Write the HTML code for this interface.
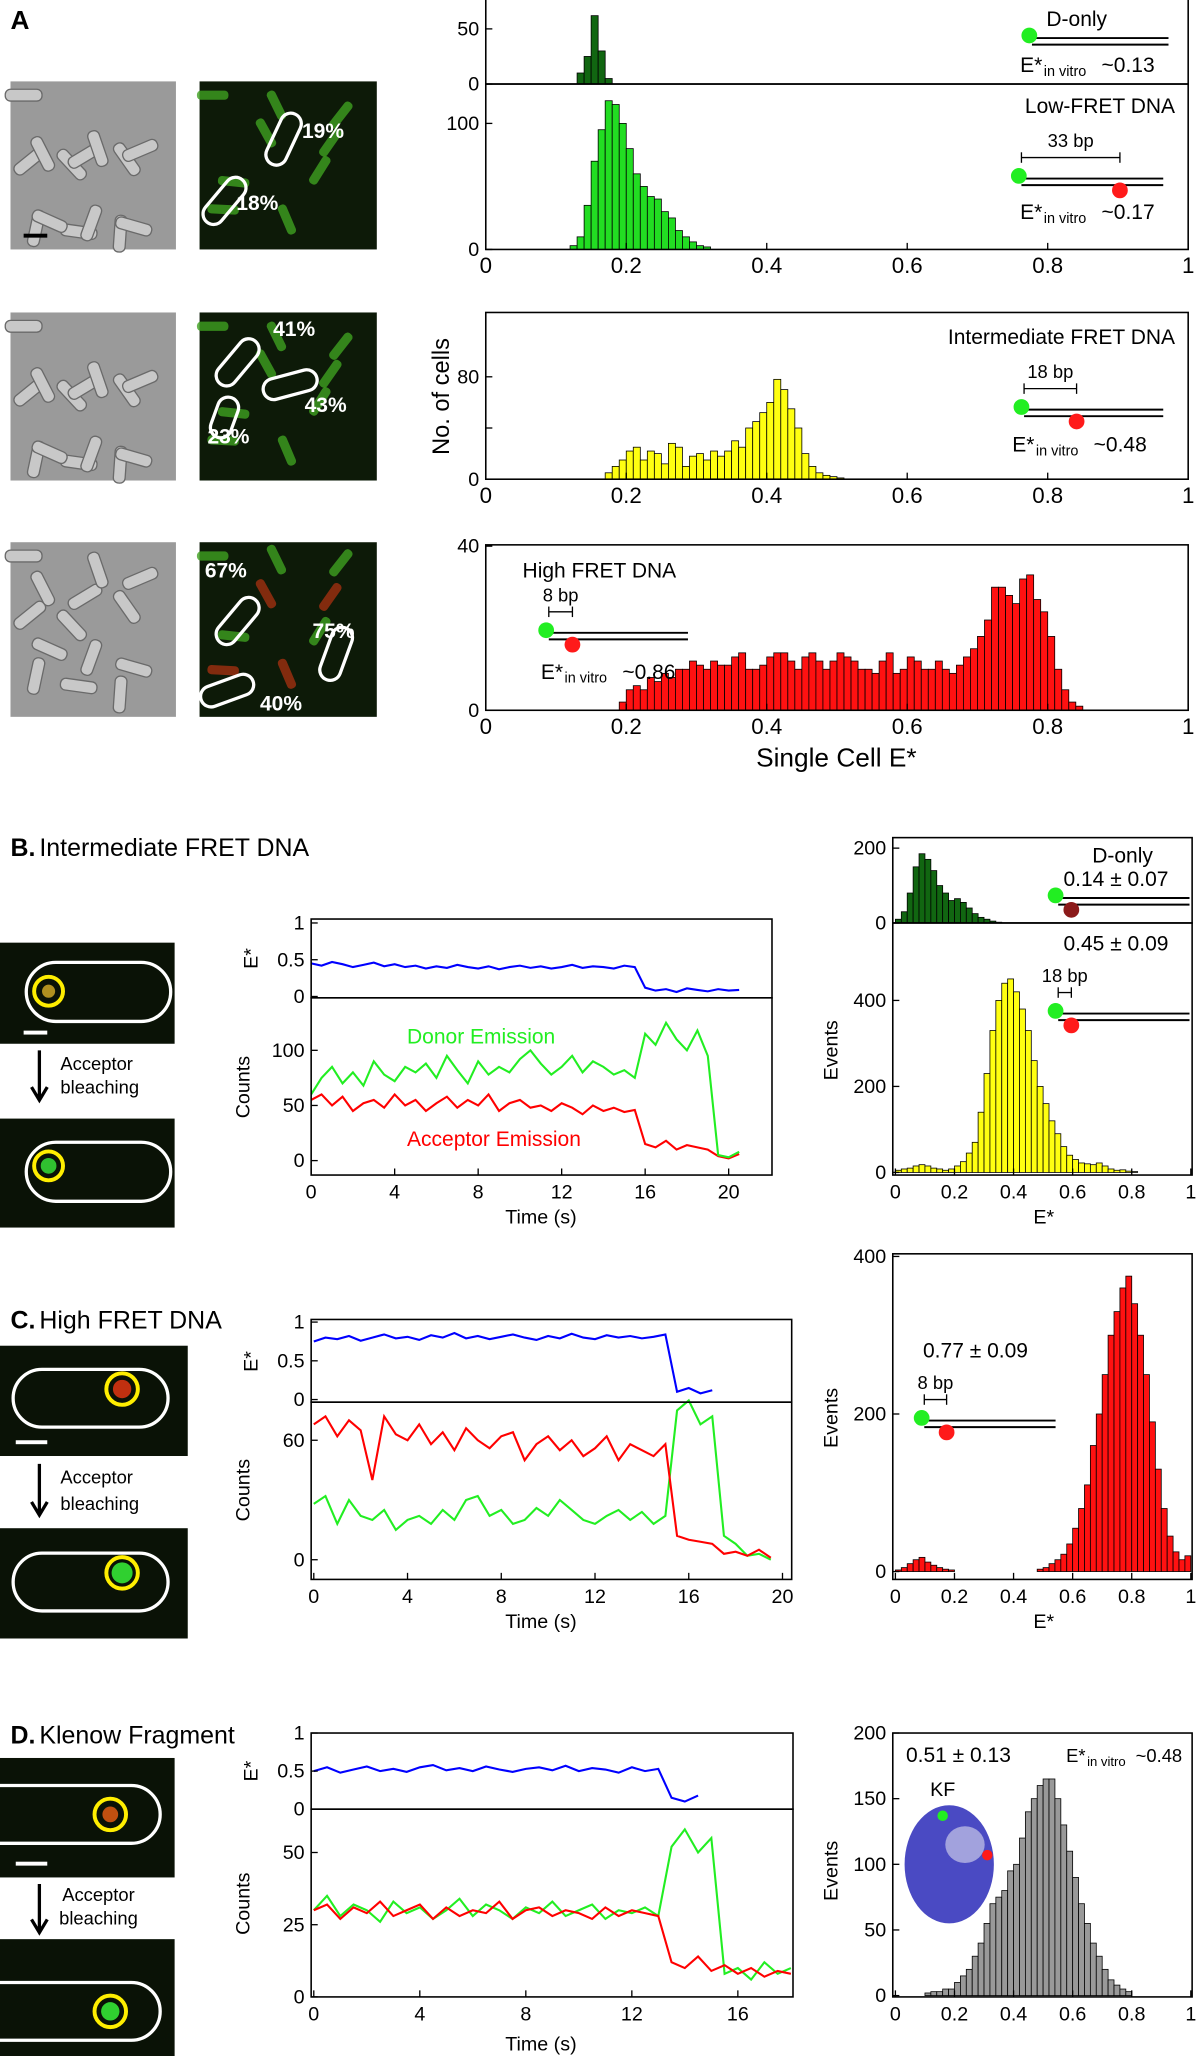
<!DOCTYPE html>
<html><head><meta charset="utf-8"><style>
html,body{margin:0;padding:0;background:#fff;}
svg{display:block;font-family:"Liberation Sans","DejaVu Sans",sans-serif;}
</style></head><body>
<svg id="fig" xmlns="http://www.w3.org/2000/svg" width="1200" height="2056" viewBox="0 0 914 1566" preserveAspectRatio="none"></svg>
<script>
// ---------- DATA ----------
const aDonlyStart = 0.13, aDonlyW = 0.01;
const aDonly = [10,25,62,30,5];
const aLowStart = 0.12, aLowW = 0.01;
const aLow = [3,10,35,70,95,118,115,100,80,60,50,42,40,30,25,15,10,6,3,2];
const aMidStart = 0.17, aMidW = 0.01;
const aMid = [5,10,15,22,25,15,22,20,12,28,25,10,18,20,15,22,18,22,30,25,40,45,52,60,78,70,55,40,20,10,5,3,2,1];
const aHighStart = 0.19, aHighW = 0.01;
const aHigh = [2,5,6,5,8,7,9,8,10,10,12,11,10,12,11,11,13,14,10,10,11,13,14,14,12,10,13,14,12,10,12,14,13,12,10,10,9,12,14,9,10,13,12,10,10,12,10,9,11,13,15,18,22,30,30,28,26,32,33,27,24,18,10,5,2,1];
const bDonly = [10,30,80,150,185,170,140,100,80,60,65,55,40,25,15,10,5,2];
const bMain = [5,8,10,15,18,15,10,8,5,8,15,25,45,70,140,230,330,400,440,450,420,380,330,260,200,160,120,90,60,40,30,22,20,18,22,15,8,5,6,3,2];
const cMain = [2,5,10,15,18,12,8,5,3,2,0,0,0,0,0,0,0,0,0,0,0,0,0,0,3,5,10,15,22,35,55,80,110,160,200,250,300,330,360,375,340,300,250,190,130,80,45,25,15,20];
const dMain = [0,0,0,0,0,2,3,3,5,5,10,15,20,30,40,55,70,75,80,95,100,120,140,150,160,165,165,150,130,110,90,70,55,40,30,20,12,8,5,3];
const bTraceDt = 0.5;
const bE = [.45,.42,.47,.44,.40,.43,.46,.41,.44,.40,.42,.38,.41,.39,.43,.40,.38,.41,.37,.40,.42,.39,.41,.38,.40,.43,.39,.41,.40,.38,.42,.40,.12,.08,.10,.06,.11,.09,.07,.10,.08,.09];
const bGreen = [60,75,85,70,80,68,90,78,72,85,80,88,75,95,82,70,90,78,85,80,92,100,88,78,85,95,80,90,85,78,82,75,115,105,125,110,100,118,95,5,3,8];
const bRed = [55,60,50,58,45,52,55,48,60,50,55,45,52,58,48,55,50,60,45,52,55,48,50,45,52,48,42,50,45,48,44,46,15,12,18,10,14,12,10,4,2,6];
const cTraceDt = 0.5;
const cE = [.75,.80,.78,.82,.76,.80,.84,.79,.81,.77,.83,.80,.86,.79,.82,.78,.81,.84,.80,.77,.82,.79,.85,.80,.78,.83,.80,.82,.79,.81,.84,.10,.15,.08,.12];
const cRed = [68,72,62,70,65,40,72,63,60,68,58,64,55,66,60,56,62,64,50,58,62,55,60,52,56,62,50,58,55,52,58,12,10,9,8,3,4,2,5,1];
const cGreen = [28,32,18,30,22,20,25,15,20,22,18,25,20,30,32,22,25,18,20,26,22,30,25,20,18,22,25,20,24,18,22,75,80,68,72,12,8,2,3,0];
const dTraceDt = 0.5;
const dE = [.50,.55,.48,.52,.56,.50,.53,.49,.55,.58,.51,.54,.50,.56,.52,.49,.53,.55,.51,.57,.50,.54,.52,.48,.55,.50,.53,.15,.10,.18];
const dGreen = [30,35,28,32,30,26,33,29,31,27,30,34,28,32,30,27,31,29,33,28,30,32,27,30,29,31,28,52,58,50,55,8,10,6,12,8,10];
const dRed = [30,32,27,31,29,33,28,30,32,27,31,28,30,29,33,27,30,31,28,30,29,27,31,28,30,29,28,12,10,14,9,11,8,10,7,9,8];
const eTicks = ['0','0.2','0.4','0.6','0.8','1'];

// ---------- HELPERS ----------
const svg = document.getElementById('fig');
const NS = 'http://www.w3.org/2000/svg';
function mk(tag, attrs, name, parent){
  const e = document.createElementNS(NS, tag);
  for (const k in attrs) e.setAttribute(k, attrs[k]);
  
  
  (parent||svg).appendChild(e);
  return e;
}
function txt(x,y,s,name,opt){
  opt=opt||{};
  const t = mk('text',{x:x,y:y,'font-size':opt.size||15,'text-anchor':opt.anchor||'middle',fill:opt.fill||'#000','font-weight':opt.bold?'bold':'normal'},name);
  if(opt.rot) t.setAttribute('transform','rotate(-90 '+x+' '+y+')');
  t.textContent=s; return t;
}
function linear(d0,d1,r0,r1){return v=>r0+(v-d0)/(d1-d0)*(r1-r0);}
function box(x0,y0,x1,y1,name){mk('rect',{x:x0,y:y0,width:x1-x0,height:y1-y0,fill:'none',stroke:'#000','stroke-width':1.2},name);}
function hist(sx,sy,start,w,arr,color,name){
  arr.forEach((v,i)=>{
    if(v<=0) return;
    const xa=sx(start+i*w), xb=sx(start+(i+1)*w), y=sy(v), y0=sy(0);
    mk('rect',{x:xa,y:y,width:xb-xa,height:y0-y,fill:color,stroke:'#000','stroke-width':0.6},name+'-bar');
  });
}
function yTicks(x,sy,vals,labels,name){
  vals.forEach((v,i)=>{
    mk('line',{x1:x,x2:x+5,y1:sy(v),y2:sy(v),stroke:'#000'},name+'-tick');
    txt(x-5,sy(v)+5,labels[i],name+'-label',{anchor:'end'});
  });
}
function xTicks(y,sx,vals,labels,name,size){
  vals.forEach((v,i)=>{
    mk('line',{x1:sx(v),x2:sx(v),y1:y,y2:y-5,stroke:'#000'},name+'-tick');
    txt(sx(v),y+18,labels[i],name+'-label',{size:size||15});
  });
}
function trace(sx,sy,dt,arr,color,name){
  const pts=arr.map((v,i)=>sx(i*dt).toFixed(1)+','+sy(v).toFixed(1)).join(' ');
  mk('polyline',{points:pts,fill:'none',stroke:color,'stroke-width':1.6},name);
}
function dna(x,y,len,gap,redX,label,name,redColor){
  mk('line',{x1:x,x2:x+len,y1:y+2,y2:y+2,stroke:'#000','stroke-width':1.5},name+'-strand-top');
  mk('line',{x1:x,x2:x+len,y1:y+7,y2:y+7,stroke:'#000','stroke-width':1.5},name+'-strand-bottom');
  mk('circle',{cx:x-2,cy:y,r:6,fill:'#22ee22'},name+'-donor');
  mk('circle',{cx:redX,cy:y+11,r:6,fill:redColor||'#ff1a1a'},name+'-acceptor');
  if(label){
    mk('line',{x1:x,x2:redX,y1:y-14,y2:y-14,stroke:'#000'},name+'-scale');
    mk('line',{x1:x,x2:x,y1:y-18,y2:y-10,stroke:'#000'},name+'-scale-cap');
    mk('line',{x1:redX,x2:redX,y1:y-18,y2:y-10,stroke:'#000'},name+'-scale-cap');
    txt((x+redX)/2,y-22,label,name+'-bp-label',{size:14});
  }
}
function micro(x,y,w,h,kind,name){
  const g=mk('g',{},name);
  if(kind==='gray'){
    mk('rect',{x:x,y:y,width:w,height:h,fill:'#9a9a9a'},name+'-bg',g);
    for(let i=0;i<14;i++){
      const cx=x+10+((i*37)%(w-20)), cy=y+10+((i*53)%(h-20)), a=(i*47)%180;
      mk('rect',{x:cx-14,y:cy-4,width:28,height:9,rx:4,fill:'#c8c8c8',stroke:'#6a6a6a','stroke-width':1,transform:'rotate('+a+' '+cx+' '+cy+')'},name+'-cell',g);
    }
  } else if(kind==='dark'){
    mk('rect',{x:x,y:y,width:w,height:h,fill:'#0a1206'},name+'-bg',g);
  } else {
    mk('rect',{x:x,y:y,width:w,height:h,fill:'#0d1a08'},name+'-bg',g);
    for(let i=0;i<9;i++){
      const cx=x+10+((i*41)%(w-20)), cy=y+10+((i*29)%(h-20)), a=(i*61)%180;
      mk('rect',{x:cx-12,y:cy-3,width:24,height:7,rx:3,fill:kind==='red'&&i%2?'#a03010':'#3fa020',opacity:0.8,transform:'rotate('+a+' '+cx+' '+cy+')'},name+'-cell',g);
    }
  }
}
function outline(x,y,w,h,rot,name){
  mk('rect',{x:x,y:y,width:w,height:h,rx:h/2,fill:'none',stroke:'#fff','stroke-width':2.5,transform:'rotate('+rot+' '+(x+w/2)+' '+(y+h/2)+')'},name);
}

// ---------- PANEL A ----------
txt(8,22,'A','panel-a-label',{anchor:'start',bold:true,size:20});
micro(8,62,126,128,'gray','brightfield-low');
micro(152,62,135,128,'green','fluor-low');
micro(8,238,126,128,'gray','brightfield-mid');
micro(152,238,135,128,'green','fluor-mid');
micro(8,413,126,133,'gray','brightfield-high');
micro(152,413,135,133,'red','fluor-high');
mk('rect',{x:18,y:178,width:18,height:3,fill:'#000'},'scale-bar-a');
outline(195,98,42,16,-65,'cell-outline');outline(150,145,42,16,-50,'cell-outline');
txt(230,105,'19%','fret-pct',{fill:'#fff',bold:true,size:16,anchor:'start'});
txt(180,160,'18%','fret-pct',{fill:'#fff',bold:true,size:16,anchor:'start'});
outline(160,268,42,16,-50,'cell-outline');outline(200,285,42,16,-15,'cell-outline');outline(155,310,32,16,-70,'cell-outline');
txt(208,256,'41%','fret-pct',{fill:'#fff',bold:true,size:16,anchor:'start'});
txt(232,314,'43%','fret-pct',{fill:'#fff',bold:true,size:16,anchor:'start'});
txt(158,338,'23%','fret-pct',{fill:'#fff',bold:true,size:16,anchor:'start'});
outline(160,465,42,16,-50,'cell-outline');outline(235,490,42,16,-70,'cell-outline');outline(152,518,42,16,-20,'cell-outline');
txt(156,440,'67%','fret-pct',{fill:'#fff',bold:true,size:16,anchor:'start'});
txt(238,486,'75%','fret-pct',{fill:'#fff',bold:true,size:16,anchor:'start'});
txt(198,541,'40%','fret-pct',{fill:'#fff',bold:true,size:16,anchor:'start'});

const axA = linear(0,1,370,905);
let sy = linear(0,50,64,22);
hist(axA,sy,aDonlyStart,aDonlyW,aDonly,'#116611','a-donly');
box(370,-2,905,64,'a-donly-frame');
yTicks(370,sy,[0,50],['0','50'],'a-donly-y');
txt(797,20,'D-only','a-donly-title',{anchor:'start',size:16});
dna(786,27,104,0,0,null,'a-donly-dna','none');
txt(777,55,'E*','a-donly-evitro',{anchor:'start',size:16});
txt(795,58,'in vitro','a-donly-evitro-sub',{anchor:'start',size:11});
txt(839,55,'~0.13','a-donly-evitro-val',{anchor:'start',size:16});
sy = linear(0,100,190,94);
hist(axA,sy,aLowStart,aLowW,aLow,'#22dd22','a-low');
box(370,64,905,190,'a-low-frame');
yTicks(370,sy,[0,100],['0','100'],'a-low-y');
xTicks(190,axA,[0,.2,.4,.6,.8,1],eTicks,'a-low-x',17);
txt(895,86,'Low-FRET DNA','a-low-title',{anchor:'end',size:16});
dna(778,134,108,0,853,'33 bp','a-low-dna');
txt(777,167,'E*','a-low-evitro',{anchor:'start',size:16});
txt(795,170,'in vitro','sub',{anchor:'start',size:11});
txt(839,167,'~0.17','a-low-evitro-val',{anchor:'start',size:16});
sy = linear(0,80,365,287);
hist(axA,sy,aMidStart,aMidW,aMid,'#ffff11','a-mid');
box(370,238,905,365,'a-mid-frame');
yTicks(370,sy,[0,40,80],['0','','80'],'a-mid-y');
xTicks(365,axA,[0,.2,.4,.6,.8,1],eTicks,'a-mid-x',17);
txt(895,262,'Intermediate FRET DNA','a-mid-title',{anchor:'end',size:16});
dna(780,310,106,0,820,'18 bp','a-mid-dna');
txt(771,344,'E*','a-mid-evitro',{anchor:'start',size:16});
txt(789,347,'in vitro','sub',{anchor:'start',size:11});
txt(833,344,'~0.48','a-mid-evitro-val',{anchor:'start',size:16});
txt(342,302,'No. of cells','y-axis-title-a',{rot:true,size:18});
sy = linear(0,40,541,416);
hist(axA,sy,aHighStart,aHighW,aHigh,'#ff1111','a-high');
box(370,415,905,541,'a-high-frame');
yTicks(370,sy,[0,40],['0','40'],'a-high-y');
xTicks(541,axA,[0,.2,.4,.6,.8,1],eTicks,'a-high-x',17);
txt(398,440,'High FRET DNA','a-high-title',{anchor:'start',size:16});
dna(418,480,106,0,436,'8 bp','a-high-dna');
txt(412,517,'E*','a-high-evitro',{anchor:'start',size:16});
txt(430,520,'in vitro','sub',{anchor:'start',size:11});
txt(474,517,'~0.86','a-high-evitro-val',{anchor:'start',size:16});
txt(637,584,'Single Cell E*','x-axis-title-a',{size:20});

// ---------- PANEL B ----------
txt(8,652,'B.','panel-b-label',{anchor:'start',bold:true,size:19});
txt(30,652,'Intermediate FRET DNA','panel-b-title',{anchor:'start',size:19});
micro(0,718,133,77,'dark','b-image-before');
micro(0,852,133,83,'dark','b-image-after');
outline(20,733,110,45,0,'b-cell-outline');outline(20,870,110,45,0,'b-cell-outline');
mk('circle',{cx:37,cy:755,r:5,fill:'#b09020'},'b-spot-fill');
mk('circle',{cx:37,cy:888,r:6,fill:'#30c030'},'b-spot-fill');
mk('circle',{cx:37,cy:755,r:11,fill:'none',stroke:'#ffee00','stroke-width':3},'b-spot');
mk('circle',{cx:37,cy:888,r:11,fill:'none',stroke:'#ffee00','stroke-width':3},'b-spot');
mk('rect',{x:18,y:785,width:18,height:3,fill:'#fff'},'b-scale-bar');
mk('path',{d:'M30 800 V836 M24 828 L30 838 L36 828',stroke:'#000','stroke-width':2.5,fill:'none'},'b-arrow');
txt(46,815,'Acceptor','b-bleach-text',{anchor:'start',size:14});
txt(46,833,'bleaching','b-bleach-text',{anchor:'start',size:14});
let tx = linear(0,20,237,555);
sy = linear(0,1,759,703);
trace(tx,sy,bTraceDt,bE,'#0000ff','b-efret-trace');
box(237,700,588,760,'b-efret-frame');
yTicks(237,sy,[0,.5,1],['0','0.5','1'],'b-efret-y');
txt(196,730,'E*','b-efret-title',{rot:true,size:15});
sy = linear(0,100,884,800);
trace(tx,sy,bTraceDt,bRed,'#ff0000','b-acceptor-trace');
trace(tx,sy,bTraceDt,bGreen,'#22ee22','b-donor-trace');
box(237,760,588,895,'b-counts-frame');
yTicks(237,sy,[0,50,100],['0','50','100'],'b-counts-y');
xTicks(895,tx,[0,4,8,12,16,20],['0','4','8','12','16','20'],'b-time-x');
txt(190,828,'Counts','b-counts-title',{rot:true,size:15});
txt(412,932,'Time (s)','b-time-title',{size:15});
txt(310,795,'Donor Emission','donor-legend',{anchor:'start',size:16,fill:'#22ee22'});
txt(310,873,'Acceptor Emission','acceptor-legend',{anchor:'start',size:16,fill:'#ff0000'});
let hx = linear(0,1,682,907);
sy = linear(0,200,703,646);
hist(hx,sy,0.0,0.02,bDonly,'#116611','b-donly');
box(680,638,908,703,'b-donly-frame');
yTicks(680,sy,[0,200],['0','200'],'b-donly-y');
txt(855,657,'D-only','b-donly-title',{size:16});
txt(850,675,'0.14 ± 0.07','b-donly-value',{size:16});
dna(806,682,100,0,816,null,'b-donly-dna','#8b1a1a');
sy = linear(0,400,893,762);
hist(hx,sy,0.0,0.02,bMain,'#ffff11','b-main');
box(680,703,908,895,'b-main-frame');
yTicks(680,sy,[0,200,400],['0','200','400'],'b-main-y');
xTicks(895,hx,[0,.2,.4,.6,.8,1],eTicks,'b-hist-x');
txt(850,724,'0.45 ± 0.09','b-main-value',{size:16});
dna(806,770,100,0,816,'18 bp','b-main-dna');
txt(638,800,'Events','b-events-title',{rot:true,size:15});
txt(795,932,'E*','b-hist-x-title',{size:15});

// ---------- PANEL C ----------
txt(8,1012,'C.','panel-c-label',{anchor:'start',bold:true,size:19});
txt(30,1012,'High FRET DNA','panel-c-title',{anchor:'start',size:19});
micro(0,1025,143,84,'dark','c-image-before');
micro(0,1164,143,84,'dark','c-image-after');
outline(10,1043,118,44,0,'c-cell-outline');outline(10,1183,118,44,0,'c-cell-outline');
mk('circle',{cx:93,cy:1058,r:7,fill:'#c03010'},'c-spot-fill');
mk('circle',{cx:93,cy:1198,r:8,fill:'#30d030'},'c-spot-fill');
mk('circle',{cx:93,cy:1058,r:12,fill:'none',stroke:'#ffee00','stroke-width':3},'c-spot');
mk('circle',{cx:93,cy:1198,r:12,fill:'none',stroke:'#ffee00','stroke-width':3},'c-spot');
mk('rect',{x:12,y:1097,width:24,height:3,fill:'#fff'},'c-scale-bar');
mk('path',{d:'M30 1115 V1152 M24 1144 L30 1154 L36 1144',stroke:'#000','stroke-width':2.5,fill:'none'},'c-arrow');
txt(46,1130,'Acceptor','c-bleach-text',{anchor:'start',size:14});
txt(46,1150,'bleaching','c-bleach-text',{anchor:'start',size:14});
tx = linear(0,20,239,596);
sy = linear(0,1,1066,1007);
trace(tx,sy,cTraceDt,cE,'#0000ff','c-efret-trace');
box(237,1005,603,1068,'c-efret-frame');
yTicks(237,sy,[0,.5,1],['0','0.5','1'],'c-efret-y');
txt(196,1037,'E*','c-efret-title',{rot:true,size:15});
sy = linear(0,60,1188,1097);
trace(tx,sy,cTraceDt,cGreen,'#22ee22','c-donor-trace');
trace(tx,sy,cTraceDt,cRed,'#ff0000','c-acceptor-trace');
box(237,1068,603,1203,'c-counts-frame');
yTicks(237,sy,[0,60],['0','60'],'c-counts-y');
xTicks(1203,tx,[0,4,8,12,16,20],['0','4','8','12','16','20'],'c-time-x');
txt(190,1135,'Counts','c-counts-title',{rot:true,size:15});
txt(412,1240,'Time (s)','c-time-title',{size:15});
sy = linear(0,400,1197,957);
hist(hx,sy,0.0,0.02,cMain,'#ff1111','c-main');
box(680,955,908,1203,'c-main-frame');
yTicks(680,sy,[0,200,400],['0','200','400'],'c-main-y');
xTicks(1203,hx,[0,.2,.4,.6,.8,1],eTicks,'c-hist-x');
txt(743,1034,'0.77 ± 0.09','c-main-value',{size:16});
dna(704,1080,100,0,721,'8 bp','c-main-dna');
txt(638,1080,'Events','c-events-title',{rot:true,size:15});
txt(795,1240,'E*','c-hist-x-title',{size:15});

// ---------- PANEL D ----------
txt(8,1328,'D.','panel-d-label',{anchor:'start',bold:true,size:19});
txt(30,1328,'Klenow Fragment','panel-d-title',{anchor:'start',size:19});
micro(0,1339,133,91,'dark','d-image-before');
micro(0,1477,133,89,'dark','d-image-after');
mk('path',{d:'M0 1360 H100 A22 22 0 0 1 100 1404 H0',fill:'none',stroke:'#fff','stroke-width':2.5},'d-cell-outline');
mk('path',{d:'M0 1510 H100 A22 22 0 0 1 100 1554 H0',fill:'none',stroke:'#fff','stroke-width':2.5},'d-cell-outline');
mk('circle',{cx:84,cy:1382,r:6,fill:'#c05010'},'d-spot-fill');
mk('circle',{cx:84,cy:1532,r:7,fill:'#30d030'},'d-spot-fill');
mk('circle',{cx:84,cy:1382,r:12,fill:'none',stroke:'#ffee00','stroke-width':3},'d-spot');
mk('circle',{cx:84,cy:1532,r:12,fill:'none',stroke:'#ffee00','stroke-width':3},'d-spot');
mk('rect',{x:12,y:1418,width:24,height:3,fill:'#fff'},'d-scale-bar');
mk('path',{d:'M30 1435 V1470 M24 1462 L30 1472 L36 1462',stroke:'#000','stroke-width':2.5,fill:'none'},'d-arrow');
txt(75,1448,'Acceptor','d-bleach-text',{size:14});
txt(75,1466,'bleaching','d-bleach-text',{size:14});
tx = linear(0,16,239,562);
sy = linear(0,1,1378,1320);
trace(tx,sy,dTraceDt,dE,'#0000ff','d-efret-trace');
box(237,1320,604,1378,'d-efret-frame');
yTicks(237,sy,[0,.5,1],['0','0.5','1'],'d-efret-y');
txt(196,1349,'E*','d-efret-title',{rot:true,size:15});
sy = linear(0,50,1521,1411);
trace(tx,sy,dTraceDt,dGreen,'#22ee22','d-donor-trace');
trace(tx,sy,dTraceDt,dRed,'#ff0000','d-acceptor-trace');
box(237,1378,604,1521,'d-counts-frame');
yTicks(237,sy,[0,25,50],['0','25','50'],'d-counts-y');
xTicks(1521,tx,[0,4,8,12,16],['0','4','8','12','16'],'d-time-x');
txt(190,1450,'Counts','d-counts-title',{rot:true,size:15});
txt(412,1562,'Time (s)','d-time-title',{size:15});
sy = linear(0,200,1520,1320);
hist(hx,sy,0.0,0.02,dMain,'#999999','d-main');
box(680,1320,908,1521,'d-main-frame');
yTicks(680,sy,[0,50,100,150,200],['0','50','100','150','200'],'d-main-y');
xTicks(1521,hx,[0,.2,.4,.6,.8,1],eTicks,'d-hist-x');
txt(730,1342,'0.51 ± 0.13','d-main-value',{size:16});
txt(812,1342,'E*','d-evitro',{anchor:'start',size:14});
txt(828,1345,'in vitro','sub',{anchor:'start',size:10});
txt(865,1342,'~0.48','d-evitro-val',{anchor:'start',size:14});
txt(718,1368,'KF','d-kf-label',{size:15});
mk('ellipse',{cx:723,cy:1420,rx:34,ry:45,fill:'#2a2ab8',opacity:0.85},'d-protein-structure');
mk('ellipse',{cx:735,cy:1405,rx:15,ry:14,fill:'#c8c8e8',opacity:0.7},'d-protein-detail');
mk('circle',{cx:718,cy:1383,r:4,fill:'#22ee22'},'d-protein-donor');
mk('circle',{cx:752,cy:1413,r:4,fill:'#ff1a1a'},'d-protein-acceptor');
txt(638,1425,'Events','d-events-title',{rot:true,size:15});
</script>
</body></html>
